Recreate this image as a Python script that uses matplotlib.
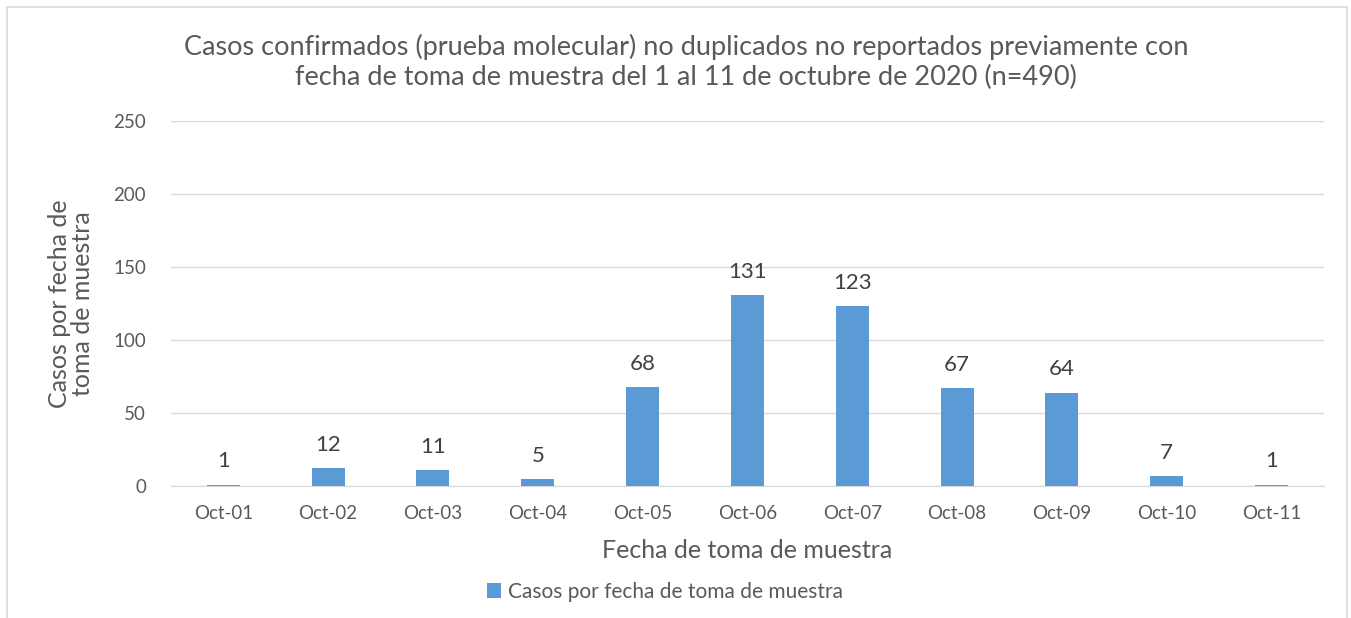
import matplotlib
matplotlib.use('Agg')
import matplotlib.pyplot as plt
from matplotlib.patches import Rectangle

# Datos
fechas = ['Oct-01', 'Oct-02', 'Oct-03', 'Oct-04', 'Oct-05', 'Oct-06',
          'Oct-07', 'Oct-08', 'Oct-09', 'Oct-10', 'Oct-11']
casos = [1, 12, 11, 5, 68, 131, 123, 67, 64, 7, 1]
yticks = [0, 50, 100, 150, 200, 250]

plt.rcParams['font.family'] = ['Lato', 'DejaVu Sans']
texto = '#595959'
azul = '#5B9BD5'

fig = plt.figure(figsize=(13.51, 6.18), dpi=100)
ax = fig.add_axes([0.1265, 0.2136, 0.8535, 0.5906])

x = range(len(fechas))
ax.bar(x, casos, width=0.315, color=azul, label='Casos por fecha de toma de muestra', zorder=3)

for i, v in zip(x, casos):
    ax.text(i, v + 9, str(v), ha='center', va='bottom', fontsize=16, color='#404040')

ax.set_xlim(-0.5, len(fechas) - 0.5)
ax.set_ylim(0, 250)
ax.set_yticks(yticks)
ax.set_xticks(list(x))
ax.set_xticklabels(fechas)
ax.tick_params(axis='both', length=0, labelsize=13.5, labelcolor=texto)
ax.tick_params(axis='y', pad=18)
ax.tick_params(axis='x', pad=14)
ax.grid(axis='y', color='#D9D9D9', linewidth=1, zorder=0)
for s in ['top', 'right', 'left']:
    ax.spines[s].set_visible(False)
ax.spines['bottom'].set_color('#D9D9D9')

ax.set_xlabel('Fecha de toma de muestra', fontsize=18, color=texto, labelpad=12)
ax.set_ylabel('Casos por fecha de\ntoma de muestra', fontsize=18, color=texto, labelpad=14,
              linespacing=1.0)

fig.text(0.508, 0.9, 'Casos confirmados (prueba molecular) no duplicados no reportados previamente con\n'
         'fecha de toma de muestra del 1 al 11 de octubre de 2020 (n=490)',
         ha='center', va='center', fontsize=19.5, color=texto, linespacing=1.25)

fig.legend(loc='center', bbox_to_anchor=(0.492, 0.042), frameon=False, fontsize=15,
           handlelength=0.7, handleheight=0.7, handletextpad=0.3, labelcolor=texto)

fig.patches.append(Rectangle((7 / 1351, -0.05), 1340 / 1351, 1 - 7 / 618 + 0.05,
                             transform=fig.transFigure, fill=False,
                             edgecolor='#D9D9D9', linewidth=1.2))

fig.savefig('out.png', dpi=100)
